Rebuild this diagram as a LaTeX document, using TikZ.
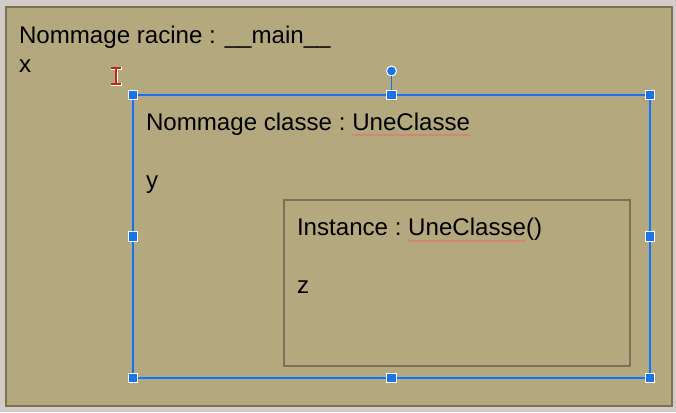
\documentclass[tikz,border=0pt]{standalone}
\usepackage{fontspec}
\setmainfont{Liberation Sans}
\usetikzlibrary{decorations.pathmorphing,calc}
\definecolor{bgout}{HTML}{D3CBC5}
\definecolor{khaki}{HTML}{B3A87E}
\definecolor{framec}{HTML}{7B7157}
\definecolor{selblue}{HTML}{1A73E8}
\definecolor{haloc}{HTML}{A9A7A0}
\definecolor{squig}{HTML}{E8706C}
\definecolor{cursred}{HTML}{C0281C}
\begin{document}
\begin{tikzpicture}[x=1pt,y=-1pt, every node/.style={outer sep=0pt},
  txt/.style={anchor=base west, inner sep=0pt, font=\fontsize{24.1}{28}\selectfont, text=black},
  boxframe/.style={draw=framec, fill=khaki, line width=2pt, anchor=north west, inner sep=0pt},
  handle/.style={draw=white, line width=1pt, fill=selblue, minimum size=9.5pt, inner sep=0pt},
  wavy/.style={squig, line width=0.7pt, decorate, decoration={snake, amplitude=0.8pt, segment length=3pt}}]
\useasboundingbox (0,0) rectangle (676,412);
\fill[bgout] (0,0) rectangle (676,412);
% root frame
\node[boxframe, minimum width=666pt, minimum height=399pt] (root) at (6,7) {};
% class frame (selected)
\node[draw=haloc, line width=3.5pt, anchor=north west, inner sep=0pt, minimum width=517pt, minimum height=283pt] (cls) at (133,95) {};
% instance frame
\node[boxframe, minimum width=346pt, minimum height=166pt] (inst) at (284,200) {};
\draw[selblue, line width=1.2pt] (cls.north west) rectangle (cls.south east);
% rotation handle
\node[handle, circle, minimum size=10pt] (rot) at ($(cls.north)+(0,-24)$) {};
\draw[selblue, line width=1.2pt] (rot) -- (cls.north);
% handles
\foreach \a/\n in {north west/h1, north/h2, north east/h3, east/h4, south east/h5, south/h6, south west/h7, west/h8}
  \node[handle] (\n) at (cls.\a) {};
% texts
\node[txt] (t1) at (19,44) {Nommage racine : \_\_main\_\_};
\node[txt] (t2) at (19,72) {x};
\node[txt] (t3) at (146,130) {Nommage classe :\kern0.278em};
\node[txt] (u1) at (t3.base east) {UneClasse};
\draw[wavy] ($(u1.base west)+(0,5)$) -- ($(u1.base east)+(0,5)$);
\node[txt] (t4) at (146,188) {y};
\node[txt] (t5) at (297,235) {Instance :\kern0.278em};
\node[txt] (u2) at (t5.base east) {UneClasse};
\node[txt] (t6) at (u2.base east) {()};
\draw[wavy] ($(u2.base west)+(0,6)$) -- ($(u2.base east)+(0,6)$);
\node[txt] (t7) at (297,293) {z};
% text cursor (I-beam)
\coordinate (cur) at (116,76);
\draw[white, line width=3pt] ($(cur)+(0,-8)$) -- ($(cur)+(0,8)$)
  ($(cur)+(-5.5,-8)$) -- ($(cur)+(5.5,-8)$) ($(cur)+(-5.5,8)$) -- ($(cur)+(5.5,8)$);
\draw[cursred, line width=1.6pt] ($(cur)+(0,-8)$) -- ($(cur)+(0,8)$)
  ($(cur)+(-5,-8)$) -- ($(cur)+(5,-8)$) ($(cur)+(-5,8)$) -- ($(cur)+(5,8)$);
\end{tikzpicture}
\end{document}
